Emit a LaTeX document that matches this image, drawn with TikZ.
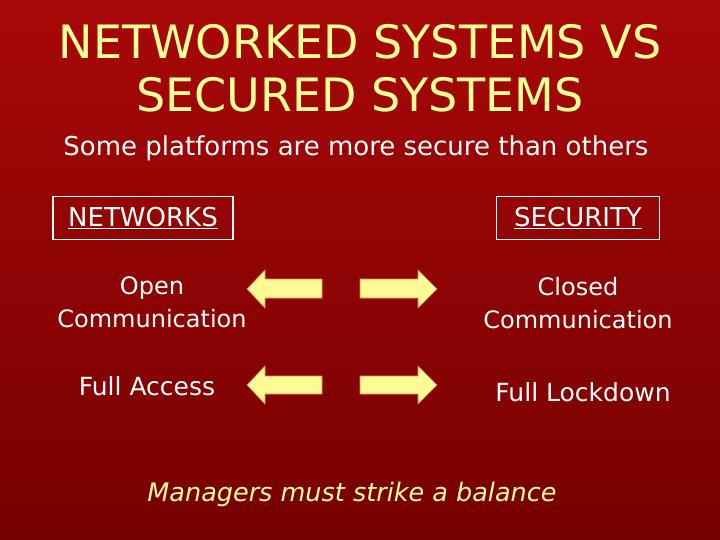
\documentclass[tikz,border=0pt]{standalone}
\usepackage{fontspec}
\setmainfont{DejaVu Sans}
\definecolor{bgtop}{RGB}{168,8,8}
\definecolor{bgbot}{RGB}{118,0,0}
\definecolor{ttl}{RGB}{255,255,150}
\definecolor{arrfill}{RGB}{255,250,150}
\definecolor{arredge}{RGB}{225,140,70}
\begin{document}
\begin{tikzpicture}[x=1pt,y=-1pt,
  titletext/.style={text=ttl,font=\fontsize{46}{50}\selectfont,inner sep=0pt},
  bodytext/.style={text=white,font=\fontsize{24}{33}\selectfont,align=center,inner sep=0pt},
  headbox/.style={draw=white,line width=1.4pt,text=white,font=\fontsize{26}{28}\selectfont,inner sep=0pt},
  bigarrow/.style={fill=arrfill,draw=arredge,line width=0.6pt,line join=miter}]
\shade[top color=bgtop,bottom color=bgbot] (0pt,0pt) rectangle (720pt,-540pt);
\useasboundingbox (0,0) rectangle (720,540);
% title
\node[titletext] (t1) at (360,42) {NETWORKED SYSTEMS VS};
\node[titletext] (t2) at (360,95) {SECURED SYSTEMS};
\node[bodytext,font=\fontsize{26}{30}\selectfont] (sub) at (356,148) {Some platforms are more secure than others};
% header boxes
\node[headbox,minimum width=180,minimum height=43] (net) at (143,218) {\underline{NETWORKS}};
\node[headbox,minimum width=163,minimum height=43] (sec) at (578,218) {\underline{SECURITY}};
% labels
\node[bodytext] (open) at (152,302) {Open\\Communication};
\node[bodytext] (closed) at (578,303) {Closed\\Communication};
\node[bodytext,font=\fontsize{25}{30}\selectfont] (full) at (147,386) {Full Access};
\node[bodytext,font=\fontsize{25}{30}\selectfont] (lock) at (583,392) {Full Lockdown};
% arrows
\filldraw[bigarrow] (247,289) -- (265,270) -- (265,279) -- (322,279) -- (322,298) -- (265,298) -- (265,308) -- cycle;
\filldraw[bigarrow] (437,289) -- (418,270) -- (418,279) -- (360,279) -- (360,298) -- (418,298) -- (418,308) -- cycle;
\filldraw[bigarrow] (247,385) -- (265,366) -- (265,376) -- (322,376) -- (322,394) -- (265,394) -- (265,404) -- cycle;
\filldraw[bigarrow] (437,385) -- (418,366) -- (418,376) -- (360,376) -- (360,394) -- (418,394) -- (418,404) -- cycle;
% bottom
\node[bodytext,text=ttl,font=\fontsize{25.5}{28}\selectfont\itshape] (bal) at (352,494) {Managers must strike a balance};
\end{tikzpicture}
\end{document}
